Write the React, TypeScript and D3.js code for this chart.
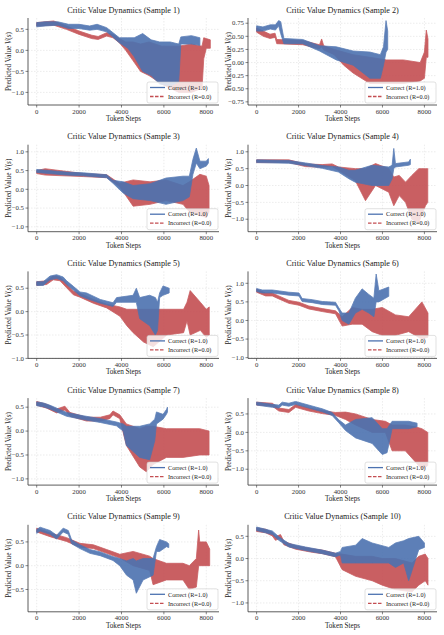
import React from 'react';
import * as d3 from 'd3';

// each series: [token step, low, high] (noisy stretches kept as a band)
type Pt = [number, number, number];

const s1Correct: Pt[] = [[0, 0.56, 0.66], [400, 0.58, 0.68], [1000, 0.6, 0.68], [1500, 0.52, 0.62], [2000, 0.52, 0.62], [2500, 0.48, 0.58], [2850, 0.5, 0.62], [3300, 0.44, 0.54], [3500, 0.36, 0.46], [3900, 0.18, 0.3], [4300, 0.05, 0.3], [4600, -0.15, 0.3], [5000, -0.5, 0.4], [5400, -0.6, 0.25], [5800, -0.8, 0.2], [6300, -0.85, 0.2], [6700, -0.75, 0.15], [6800, 0.15, 0.32], [7300, 0.15, 0.35], [7700, 0.12, 0.3]];
const s1Incorrect: Pt[] = [[0, 0.58, 0.66], [800, 0.6, 0.7], [1400, 0.5, 0.58], [2000, 0.38, 0.46], [2600, 0.28, 0.36], [2900, 0.26, 0.33], [3300, 0.34, 0.42], [3600, 0.3, 0.38], [3900, 0.18, 0.28], [4200, 0.0, 0.2], [4550, -0.25, 0.2], [4900, -0.5, 0.15], [5300, -0.6, 0.2], [5900, -0.8, 0.1], [6700, -1.0, 0.1], [7300, -1.0, 0.15], [7800, -0.9, 0.1], [7880, -0.2, 0.3], [8000, 0.05, 0.28], [8190, 0.05, 0.25]];

const s2Correct: Pt[] = [[0, 0.6, 0.7], [300, 0.6, 0.68], [650, 0.64, 0.72], [900, 0.62, 0.72], [1050, 0.7, 0.8], [1150, 0.55, 0.78], [1300, 0.36, 0.46], [2200, 0.36, 0.44], [3000, 0.22, 0.32], [3800, 0.05, 0.3], [4600, -0.05, 0.22], [5400, -0.3, 0.2], [5900, -0.3, 0.15], [6050, -0.05, 0.3], [6170, 0.2, 0.8], [6250, 0.25, 0.6]];
const s2Incorrect: Pt[] = [[0, 0.58, 0.66], [320, 0.5, 0.6], [640, 0.46, 0.54], [880, 0.48, 0.56], [960, 0.36, 0.44], [2200, 0.34, 0.42], [3000, 0.26, 0.34], [3100, 0.3, 0.45], [3200, 0.24, 0.32], [3700, 0.15, 0.25], [4150, -0.05, 0.2], [4600, -0.2, 0.15], [5400, -0.4, 0.1], [6200, -0.4, 0.05], [7000, -0.4, 0.05], [7800, -0.35, 0.0], [8000, -0.3, 0.2], [8090, 0.1, 0.62], [8170, 0.1, 0.45]];

const s3Correct: Pt[] = [[0, 0.45, 0.53], [1400, 0.38, 0.46], [2200, 0.36, 0.44], [3300, 0.31, 0.39], [3600, 0.16, 0.24], [4080, -0.1, 0.2], [4550, -0.25, 0.1], [5350, -0.3, 0.15], [6100, -0.4, 0.3], [6900, -0.3, 0.35], [7200, -0.2, 0.35], [7370, 0.4, 0.8], [7530, 0.7, 1.1], [7700, 0.55, 0.75], [8000, 0.62, 0.75], [8100, 0.7, 0.82]];
const s3Incorrect: Pt[] = [[0, 0.42, 0.5], [400, 0.38, 0.55], [2200, 0.34, 0.42], [3300, 0.31, 0.39], [3900, 0.08, 0.16], [4550, -0.45, 0.25], [5350, -0.4, 0.2], [6100, -0.3, 0.25], [6900, -0.4, 0.1], [7200, -0.6, 0.2], [7700, -0.7, 0.4], [8000, -0.75, 0.35], [8130, -0.6, 0.1]];

const s4Correct: Pt[] = [[0, 0.68, 0.76], [1540, 0.66, 0.74], [2330, 0.59, 0.67], [3130, 0.51, 0.59], [3900, 0.4, 0.55], [4400, 0.2, 0.45], [4700, 0.1, 0.45], [5500, 0.0, 0.6], [6300, 0.0, 0.55], [6460, 0.2, 0.6], [6540, 0.5, 1.1], [6620, 0.55, 0.65], [7250, 0.6, 0.7], [7330, 0.62, 0.78]];
const s4Incorrect: Pt[] = [[0, 0.68, 0.76], [1540, 0.68, 0.76], [2330, 0.56, 0.64], [3130, 0.54, 0.62], [3600, 0.56, 0.64], [3900, 0.45, 0.55], [4700, 0.15, 0.5], [5190, -0.45, 0.5], [5670, 0.0, 0.65], [6300, -0.2, 0.5], [6540, -0.6, 0.25], [6800, -0.3, 0.3], [7100, -0.5, 0.1], [7400, -1.0, 0.3], [7730, -1.1, 0.5], [8050, -0.6, 0.5], [8160, -0.5, 0.5]];

const s5Correct: Pt[] = [[0, 0.56, 0.64], [310, 0.56, 0.64], [630, 0.68, 0.76], [940, 0.71, 0.79], [1250, 0.66, 0.74], [1410, 0.58, 0.66], [1730, 0.46, 0.54], [2040, 0.34, 0.42], [2350, 0.28, 0.4], [3000, 0.18, 0.26], [3600, 0.11, 0.19], [3770, 0.2, 0.3], [4550, 0.2, 0.35], [4700, 0.2, 0.5], [4860, -0.15, 0.3], [5330, -0.3, 0.35], [5600, -0.5, 0.3], [5700, -0.4, 0.2], [5800, 0.3, 0.4], [5960, 0.35, 0.55], [6250, 0.4, 0.5]];
const s5Incorrect: Pt[] = [[0, 0.56, 0.64], [470, 0.58, 0.66], [780, 0.68, 0.76], [1100, 0.66, 0.74], [1410, 0.51, 0.59], [1730, 0.36, 0.44], [2040, 0.31, 0.39], [2670, 0.18, 0.26], [3300, 0.08, 0.16], [3930, -0.1, 0.1], [4250, -0.3, 0.05], [4550, -0.45, 0.05], [5040, -0.65, 0.05], [5500, -0.75, 0.05], [6140, -0.5, 0.05], [6930, -0.45, 0.05], [7090, -0.2, 0.2], [7240, -0.5, 0.45], [7720, -0.4, 0.2], [8000, -0.55, 0.05], [8140, -0.5, 0.1]];

const s6Correct: Pt[] = [[0, 0.78, 0.86], [270, 0.74, 0.82], [750, 0.74, 0.82], [1540, 0.68, 0.76], [2020, 0.66, 0.74], [2170, 0.51, 0.59], [2650, 0.48, 0.56], [3130, 0.43, 0.51], [3760, 0.41, 0.49], [3920, 0.26, 0.34], [4080, 0.0, 0.2], [4400, -0.1, 0.2], [4710, 0.2, 0.6], [5030, 0.3, 0.85], [5350, 0.2, 0.7], [5590, 0.1, 0.6], [5700, 0.5, 1.25], [5830, 0.5, 0.8], [6300, 0.65, 0.9]];
const s6Incorrect: Pt[] = [[0, 0.76, 0.84], [430, 0.66, 0.74], [750, 0.66, 0.74], [1060, 0.58, 0.66], [1540, 0.46, 0.54], [2020, 0.41, 0.49], [2490, 0.31, 0.39], [3130, 0.24, 0.32], [3760, 0.18, 0.26], [4080, -0.15, 0.1], [4560, -0.1, 0.35], [5030, -0.1, 0.3], [5510, -0.3, 0.3], [5990, -0.4, 0.35], [6620, -0.4, 0.15], [7250, -0.3, 0.1], [7880, -0.5, 0.5], [8170, -0.45, 0.2]];

const s7Correct: Pt[] = [[0, 0.53, 0.61], [310, 0.51, 0.59], [630, 0.46, 0.54], [1410, 0.31, 0.39], [2200, 0.24, 0.32], [3000, 0.18, 0.26], [3760, 0.11, 0.19], [4080, 0.0, 0.15], [4230, -0.3, 0.1], [4860, -0.55, 0.1], [5330, -0.6, 0.15], [5570, -0.2, 0.25], [5650, 0.15, 0.4], [5960, 0.25, 0.35], [6120, 0.35, 0.45], [6170, 0.4, 0.5]];
const s7Incorrect: Pt[] = [[0, 0.54, 0.62], [470, 0.48, 0.56], [940, 0.38, 0.46], [1330, 0.44, 0.52], [1570, 0.31, 0.39], [2350, 0.21, 0.29], [3000, 0.21, 0.29], [3450, 0.26, 0.34], [3600, 0.34, 0.42], [3920, 0.26, 0.34], [4230, -0.3, 0.15], [4860, -0.75, 0.05], [5170, -0.85, 0.1], [5490, -0.7, 0.1], [6120, -0.55, 0.05], [6900, -0.55, 0.05], [7690, -0.5, 0.05], [8130, -0.5, 0.0]];

const s8Correct: Pt[] = [[0, 0.74, 0.82], [750, 0.68, 0.76], [1060, 0.66, 0.74], [1220, 0.74, 0.82], [1540, 0.71, 0.79], [1860, 0.76, 0.84], [2170, 0.71, 0.79], [2810, 0.61, 0.69], [3130, 0.56, 0.64], [3600, 0.46, 0.54], [3920, 0.26, 0.34], [4240, 0.05, 0.2], [4720, -0.15, 0.35], [5510, -0.3, 0.4], [5990, -0.6, 0.1], [6220, -0.55, 0.1], [6460, 0.1, 0.3], [7250, 0.1, 0.3], [7650, 0.15, 0.25]];
const s8Incorrect: Pt[] = [[0, 0.74, 0.82], [750, 0.71, 0.79], [1060, 0.58, 0.66], [1540, 0.54, 0.62], [1700, 0.61, 0.69], [1860, 0.68, 0.76], [2490, 0.58, 0.66], [3130, 0.51, 0.59], [3760, 0.46, 0.54], [4240, 0.35, 0.55], [4720, 0.2, 0.5], [5510, 0.0, 0.35], [6140, 0.0, 0.3], [6460, -0.5, 0.2], [7090, -0.5, 0.2], [7570, -0.8, 0.15], [7880, -1.0, 0.1], [8160, -0.9, 0.0]];

const s9Correct: Pt[] = [[0, 0.68, 0.76], [160, 0.73, 0.81], [630, 0.66, 0.74], [940, 0.56, 0.64], [1250, 0.71, 0.79], [1490, 0.66, 0.74], [1650, 0.46, 0.54], [2040, 0.36, 0.44], [2510, 0.26, 0.34], [3000, 0.21, 0.29], [3600, 0.11, 0.19], [3920, 0.0, 0.15], [4240, -0.2, 0.1], [4550, -0.3, 0.15], [4700, -0.58, 0.1], [5020, -0.3, 0.15], [5490, -0.2, 0.15], [5650, 0.3, 0.4], [5800, 0.3, 0.55], [6120, 0.4, 0.5], [6230, 0.38, 0.46]];
const s9Incorrect: Pt[] = [[0, 0.71, 0.79], [630, 0.61, 0.69], [1410, 0.51, 0.59], [2040, 0.39, 0.47], [2670, 0.36, 0.44], [3300, 0.26, 0.34], [3920, 0.16, 0.24], [4550, 0.0, 0.3], [5330, -0.1, 0.2], [5490, -0.4, 0.15], [6120, -0.3, 0.05], [6900, -0.3, 0.05], [7200, -0.5, 0.0], [7530, -0.45, 0.15], [7640, 0.0, 0.75], [7690, 0.0, 0.5], [8000, 0.0, 0.5], [8160, 0.0, 0.35]];

const s10Correct: Pt[] = [[0, 0.63, 0.71], [430, 0.58, 0.66], [750, 0.54, 0.62], [1060, 0.41, 0.49], [1540, 0.26, 0.34], [2330, 0.18, 0.26], [3130, 0.11, 0.19], [3760, 0.04, 0.12], [4000, 0.08, 0.16], [4080, -0.1, 0.25], [4720, -0.1, 0.3], [5030, -0.1, 0.45], [5510, -0.1, 0.35], [6300, -0.1, 0.25], [6620, -0.2, 0.35], [7010, -0.1, 0.4], [7250, -0.5, 0.45], [7730, 0.2, 0.5], [8000, 0.25, 0.35]];
const s10Incorrect: Pt[] = [[0, 0.61, 0.69], [430, 0.58, 0.66], [750, 0.51, 0.59], [900, 0.41, 0.49], [1140, 0.46, 0.54], [1300, 0.31, 0.39], [1860, 0.21, 0.29], [2650, 0.14, 0.22], [3130, 0.11, 0.19], [3760, 0.04, 0.12], [4080, -0.25, 0.1], [4720, -0.4, 0.05], [5510, -0.5, 0.05], [5990, -0.6, 0.0], [6620, -0.7, 0.0], [7410, -0.75, -0.1], [7730, -0.6, 0.05], [8040, -0.5, 0.1], [8170, -0.6, 0.0]];

const correctSeries = [s1Correct, s2Correct, s3Correct, s4Correct, s5Correct, s6Correct, s7Correct, s8Correct, s9Correct, s10Correct];
const incorrectSeries = [s1Incorrect, s2Incorrect, s3Incorrect, s4Incorrect, s5Incorrect, s6Incorrect, s7Incorrect, s8Incorrect, s9Incorrect, s10Incorrect];

const yLimits: [number, number][] = [[-1.3, 0.77], [-0.81, 0.85], [-1.13, 1.19], [-1.37, 1.21], [-1.0, 0.86], [-1.02, 1.32], [-1.13, 0.69], [-1.43, 0.93], [-0.97, 0.86], [-1.2, 0.76]];
const yTickValues: number[][] = [
  [-1, -0.5, 0, 0.5],
  [-0.75, -0.5, -0.25, 0, 0.25, 0.5, 0.75],
  [-1, -0.5, 0, 0.5, 1],
  [-1, -0.5, 0, 0.5, 1],
  [-1, -0.5, 0, 0.5],
  [-1, -0.5, 0, 0.5, 1],
  [-1, -0.5, 0, 0.5],
  [-1, -0.5, 0, 0.5],
  [-0.5, 0, 0.5],
  [-1, -0.5, 0, 0.5],
];
const xTickValues = [0, 2000, 4000, 6000, 8000];
const xLimits: [number, number] = [-410, 8600];
const legendLabels = ['Correct (R=1.0)', 'Incorrect (R=0.0)'];

const BLUE = '#4c72b0';
const RED = '#c44e52';
const FONT = '"Liberation Serif", "Times New Roman", serif';

const colLeft = [28, 248];
const colRight = [219, 437];
const firstTop = 18;
const rowStep = 126.7;
const axH = 87;

const fmtMinus = (s: string) => s.replace('-', '\u2212');

function Panel({ idx }: { idx: number }) {
  const row = Math.floor(idx / 2);
  const col = idx % 2;
  const left = colLeft[col];
  const right = colRight[col];
  const top = firstTop + row * rowStep;
  const bottom = top + axH;

  const x = d3.scaleLinear().domain(xLimits).range([left, right]);
  const y = d3.scaleLinear().domain(yLimits[idx]).range([bottom, top]);
  const yt = yTickValues[idx];
  const fmt = idx === 1 ? d3.format('.2f') : d3.format('.1f');

  const band = d3.area<Pt>()
    .x(d => x(d[0]))
    .y0(d => y(d[1]))
    .y1(d => y(d[2]));

  const clipId = 'clip' + idx;
  const lx = right - 69;

  return (
    <g>
      <defs>
        <clipPath id={clipId}>
          <rect x={left} y={top} width={right - left} height={axH} />
        </clipPath>
      </defs>
      {/* grid */}
      {xTickValues.map(t => (
        <line key={'gx' + t} x1={x(t)} x2={x(t)} y1={top} y2={bottom} stroke="#d8d8d8" strokeWidth={0.5} strokeDasharray="1.5,1.5" />
      ))}
      {yt.map(t => (
        <line key={'gy' + t} x1={left} x2={right} y1={y(t)} y2={y(t)} stroke="#d8d8d8" strokeWidth={0.5} strokeDasharray="1.5,1.5" />
      ))}
      <g clipPath={`url(#${clipId})`}>
        <path d={band(incorrectSeries[idx]) || ''} fill={RED} stroke={RED} strokeWidth={0.8} strokeLinejoin="round" opacity={0.9} />
        <path d={band(correctSeries[idx]) || ''} fill={BLUE} stroke={BLUE} strokeWidth={0.8} strokeLinejoin="round" opacity={0.9} />
      </g>
      {/* spines */}
      <line x1={left} x2={left} y1={top} y2={bottom} stroke="#333" strokeWidth={0.8} />
      <line x1={left} x2={right} y1={bottom} y2={bottom} stroke="#333" strokeWidth={0.8} />
      {xTickValues.map(t => (
        <g key={'xt' + t}>
          <line x1={x(t)} x2={x(t)} y1={bottom} y2={bottom + 2.5} stroke="#333" strokeWidth={0.6} />
          <text x={x(t)} y={bottom + 8.5} textAnchor="middle" fontSize={6.8} fill="#333">{t}</text>
        </g>
      ))}
      {yt.map(t => (
        <g key={'yt' + t}>
          <line x1={left - 2.5} x2={left} y1={y(t)} y2={y(t)} stroke="#333" strokeWidth={0.6} />
          <text x={left - 4} y={y(t)} dy="0.33em" textAnchor="end" fontSize={6.8} fill="#333">{fmtMinus(fmt(t))}</text>
        </g>
      ))}
      <text x={(left + right) / 2} y={top - 5.5} textAnchor="middle" fontSize={8.2} fill="#222">
        {`Critic Value Dynamics (Sample ${idx + 1})`}
      </text>
      <text x={(left + right) / 2} y={bottom + 16} textAnchor="middle" fontSize={7.2} fill="#222">Token Steps</text>
      <text transform={`translate(${left - 17},${(top + bottom) / 2}) rotate(-90)`} textAnchor="middle" fontSize={7.2} fill="#222">
        Predicted Value <tspan fontStyle="italic">V</tspan>(<tspan fontStyle="italic">s</tspan>)
      </text>
      {/* legend */}
      <rect x={right - 72} y={bottom - 23} width={71} height={21} rx={2} fill="#fff" fillOpacity={0.8} stroke="#ccc" strokeWidth={0.6} />
      <line x1={lx} x2={lx + 15} y1={bottom - 17.5} y2={bottom - 17.5} stroke={BLUE} strokeWidth={1.3} />
      <line x1={lx} x2={lx + 15} y1={bottom - 8.5} y2={bottom - 8.5} stroke={RED} strokeWidth={1.3} strokeDasharray="3.5,1.5" />
      <text x={lx + 18} y={bottom - 15.3} fontSize={6.2} fill="#222">{legendLabels[0]}</text>
      <text x={lx + 18} y={bottom - 6.3} fontSize={6.2} fill="#222">{legendLabels[1]}</text>
    </g>
  );
}

export default function App() {
  const panels = d3.range(10);
  return (
    <div style={{ position: 'absolute', left: 0, top: 0, width: 444, height: 635, background: '#fff' }}>
      <svg width={444} height={635} style={{ display: 'block', fontFamily: FONT }}>
        <rect width={444} height={635} fill="#fff" />
        {panels.map(i => <Panel key={i} idx={i} />)}
      </svg>
    </div>
  );
}
